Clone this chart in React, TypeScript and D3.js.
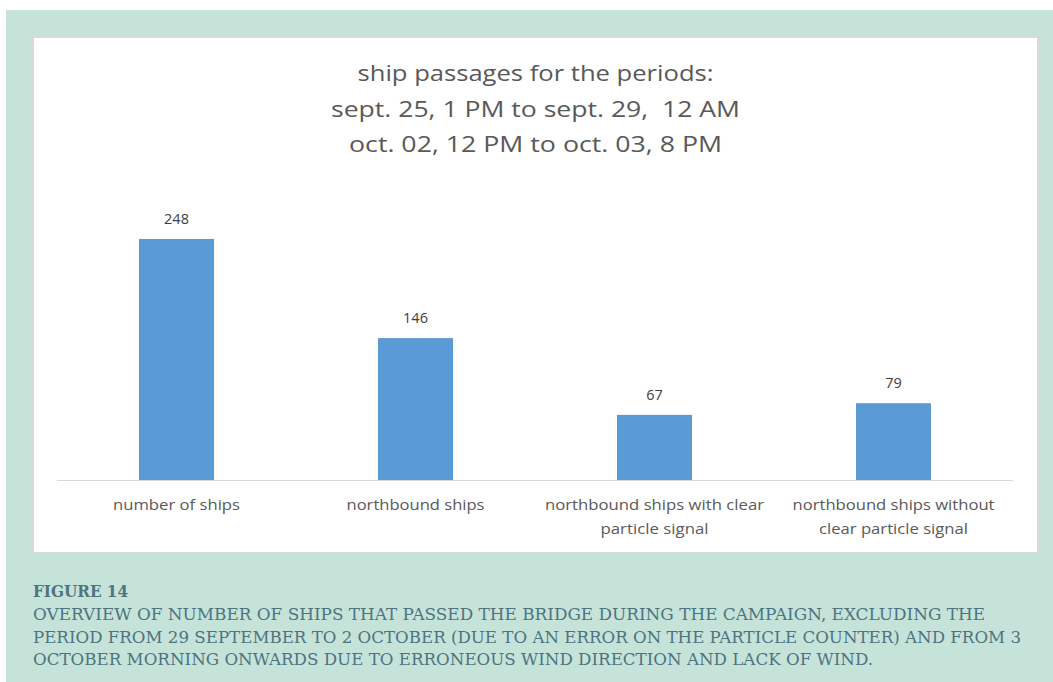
import React from 'react';
import * as d3 from 'd3';

// chart values
const categories = [
  'number of ships',
  'northbound ships',
  'northbound ships with clear particle signal',
  'northbound ships without clear particle signal',
];
const categoryLines = [
  ['number of ships'],
  ['northbound ships'],
  ['northbound ships with clear', 'particle signal'],
  ['northbound ships without', 'clear particle signal'],
];
const shipCounts = [248, 146, 67, 79];
const titleLines = [
  'ship passages for the periods:',
  'sept. 25, 1 PM to sept. 29,  12 AM',
  'oct. 02, 12 PM to oct. 03, 8 PM',
];
const captionHead = 'FIGURE 14';
const captionLines = [
  'OVERVIEW OF NUMBER OF SHIPS THAT PASSED THE BRIDGE DURING THE CAMPAIGN, EXCLUDING THE',
  'PERIOD FROM 29 SEPTEMBER TO 2 OCTOBER (DUE TO AN ERROR ON THE PARTICLE COUNTER) AND FROM 3',
  'OCTOBER MORNING ONWARDS DUE TO ERRONEOUS WIND DIRECTION AND LACK OF WIND.',
];

const titleWidths = [356, 409, 373];
const categoryWidths = [[127], [138], [219, 108], [202, 149]];
const captionWidths = [952, 988, 840];

const W = 1053;
const H = 682;
const font = '"Open Sans", Lato, sans-serif';
const serif = '"DejaVu Serif", Georgia, serif';

export default function App() {
  const plotLeft = 57;
  const plotRight = 1013;
  const baseY = 480;

  const x = d3.scaleBand<string>()
    .domain(categories)
    .range([plotLeft, plotRight])
    .paddingInner(0.686)
    .paddingOuter(0.343);

  const y = d3.scaleLinear()
    .domain([0, 300])
    .range([baseY, baseY - 291.6]);

  const cx = (c: string) => (x(c) || 0) + x.bandwidth() / 2;

  return (
    <svg width={W} height={H} style={{ position: 'absolute', left: 0, top: 0 }}>
      <rect x={0} y={0} width={W} height={H} fill="#ffffff" />
      <rect x={6} y={10} width={W - 6} height={H - 10} fill="#c6e3da" />
      {/* chart box */}
      <rect x={33} y={37} width={1005} height={516} fill="#ffffff" stroke="#d9d9d9" strokeWidth={2} />

      <g fontFamily={font} fill="#595959" textAnchor="middle">
        {titleLines.map((t, i) => (
          <text key={i} x={535.5} y={81 + i * 35.5} fontSize={22.5} xmlSpace="preserve"
            textLength={titleWidths[i]} lengthAdjust="spacingAndGlyphs">{t}</text>
        ))}
      </g>

      {categories.map((c, i) => (
        <rect
          key={c}
          x={x(c)}
          y={y(shipCounts[i])}
          width={x.bandwidth()}
          height={baseY - y(shipCounts[i])}
          fill="#5b9bd5"
        />
      ))}

      <line x1={plotLeft} x2={plotRight} y1={baseY + 0.5} y2={baseY + 0.5} stroke="#d9d9d9" strokeWidth={1} />

      <g fontFamily={font} fontSize={14.5} fill="#404040" textAnchor="middle">
        {categories.map((c, i) => (
          <text key={c} x={cx(c)} y={y(shipCounts[i]) - 15}>
            {shipCounts[i]}
          </text>
        ))}
      </g>

      <g fontFamily={font} fontSize={15} fill="#595959" textAnchor="middle">
        {categories.map((c, i) =>
          categoryLines[i].map((l, j) => (
            <text key={c + j} x={cx(c)} y={510 + j * 23.5}
              textLength={categoryWidths[i][j]} lengthAdjust="spacingAndGlyphs">{l}</text>
          ))
        )}
      </g>

      <g fontFamily={serif} fill="#4d7480">
        <text x={33} y={597} fontSize={16} fontWeight="bold" textLength={95} lengthAdjust="spacingAndGlyphs">
          {captionHead}
        </text>
        {captionLines.map((l, i) => (
          <text key={i} x={33} y={620 + i * 22.5} fontSize={16.5} textLength={captionWidths[i]} lengthAdjust="spacingAndGlyphs">
            {l}
          </text>
        ))}
      </g>
    </svg>
  );
}
